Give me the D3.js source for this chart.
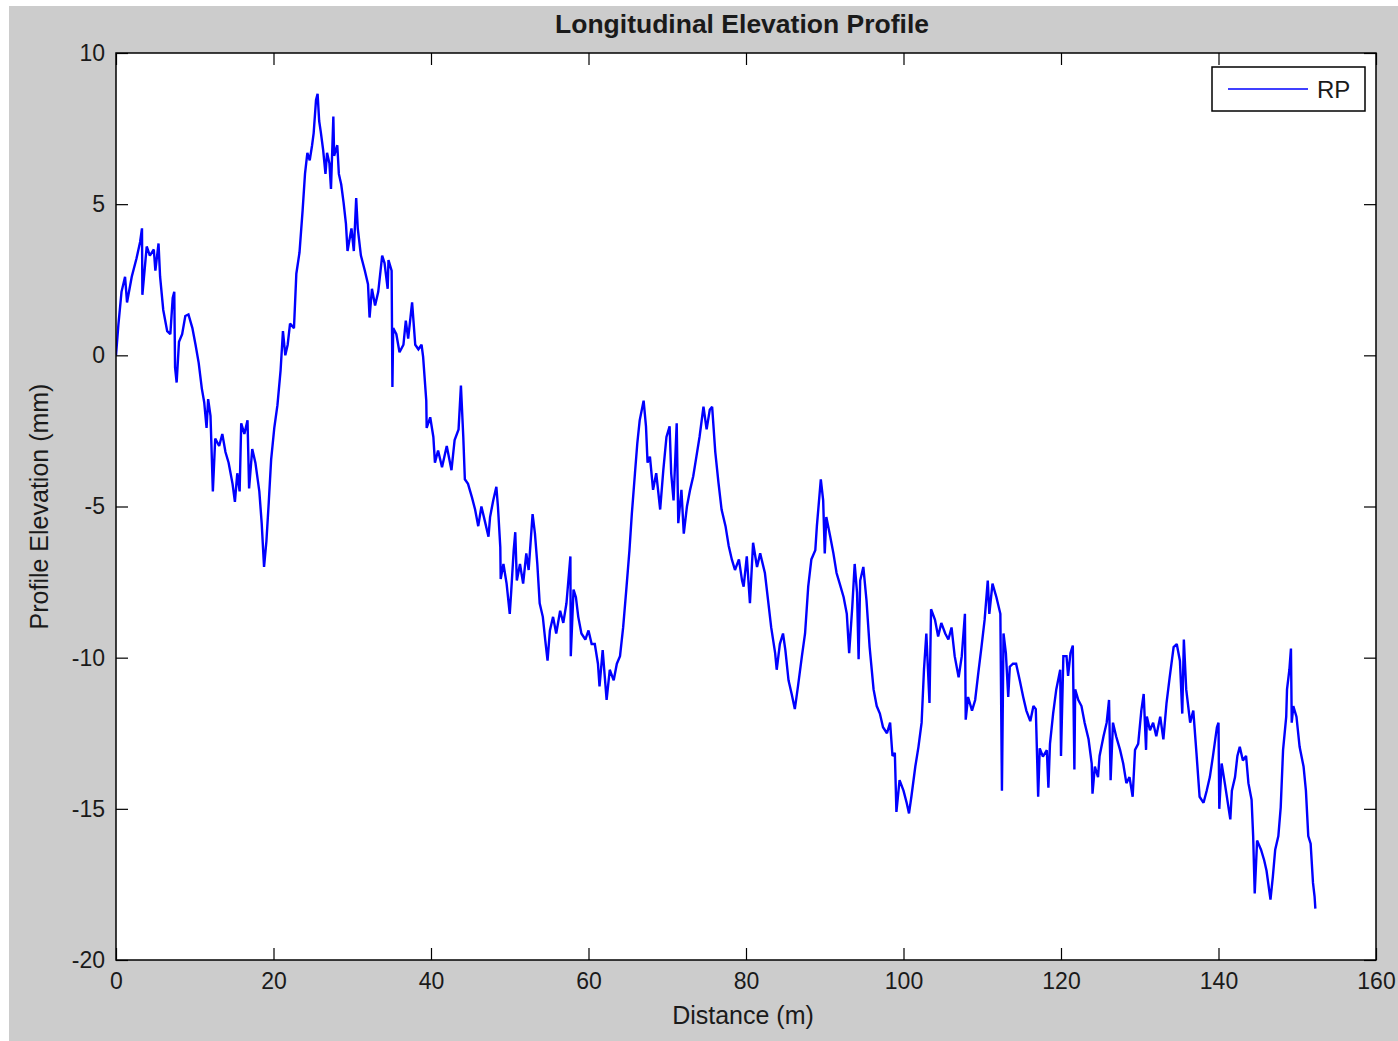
<!DOCTYPE html>
<html>
<head>
<meta charset="utf-8">
<script src="https://cdn.jsdelivr.net/npm/d3@7"></script>
<style>
  html, body { margin: 0; padding: 0; background: #ffffff; }
  svg { display: block; }
  text { font-family: "Liberation Sans", Arial, Helvetica, sans-serif; fill: #1a1a1a; }
</style>
</head>
<body>
<svg id="chart" width="1398" height="1041"></svg>
<script>
// ---- Data ----
const distance = [
  0,0.3,0.7,1.15,1.4,2.0,2.6,3.06,3.3,3.35,3.9,4.3,4.8,5.0,5.4,5.6,6.0,6.5,6.9,7.2,7.4,7.5,7.7,8.0,8.4,8.8,9.2,9.7,10.1,10.5,10.9,11.2,11.5,11.7,12.0,12.3,12.6,13.1,13.5,13.9,14.3,14.8,15.1,15.4,15.7,15.9,16.3,16.7,16.9,17.3,17.7,18.2,18.5,18.8,19.1,19.4,19.7,20.1,20.5,20.9,21.2,21.5,21.8,22.1,22.6,22.9,23.3,23.5,23.7,24.0,24.3,24.6,24.9,25.1,25.4,25.6,25.8,26.0,26.3,26.6,26.8,27.1,27.3,27.6,27.7,28.1,28.3,28.6,28.9,29.2,29.4,29.9,30.2,30.5,30.7,31.1,31.6,32.0,32.2,32.5,32.9,33.3,33.8,34.1,34.5,34.6,35.0,35.1,35.2,35.6,36.0,36.5,36.8,37.1,37.6,38.0,38.4,38.8,
  39.0,39.4,39.45,39.9,40.3,40.5,40.9,41.4,42.0,42.6,43.0,43.5,43.8,44.1,44.3,44.7,45.2,45.6,46.0,46.4,46.9,47.3,47.5,47.9,48.3,48.5,48.8,48.85,49.2,49.6,50.0,50.2,50.5,50.7,50.9,51.3,51.7,52.1,52.4,52.9,53.2,53.5,53.8,54.2,54.5,54.8,55.1,55.5,55.9,56.4,56.8,57.2,57.7,57.75,58.1,58.4,58.7,59.1,59.6,60.0,60.4,60.8,61.2,61.4,61.8,62.3,62.7,63.2,63.6,64.0,64.4,64.8,65.2,65.5,65.9,66.2,66.5,67.0,67.3,67.5,67.8,68.2,68.6,69.1,69.5,69.9,70.3,70.5,70.8,71.2,71.4,71.8,72.1,72.5,72.9,73.3,73.7,74.1,74.6,75.0,75.4,75.7,
  76.1,76.5,76.9,77.4,77.8,78.2,78.6,79.1,79.5,79.7,80.1,80.5,80.9,81.4,81.8,82.4,82.8,83.2,83.7,83.9,84.3,84.7,85.0,85.4,85.8,86.2,86.6,87.1,87.5,87.9,88.3,88.8,89.0,89.5,89.8,90.0,90.2,90.7,91.1,91.5,91.9,92.4,92.8,93.1,93.5,93.8,94.1,94.3,94.5,94.9,95.3,95.7,96.2,96.6,97.0,97.4,97.9,98.3,98.6,98.9,99.1,99.5,100.0,100.4,100.7,101.0,101.5,101.9,102.3,102.6,102.9,103.3,103.5,104.0,104.4,104.8,105.3,105.7,106.1,106.5,107.0,107.4,107.8,107.9,108.2,108.7,109.1,109.5,109.9,110.3,110.7,110.9,111.3,111.8,112.3,112.5,112.7,113.0,113.3,113.5,113.9,114.3,114.8,115.2,115.6,116.1,116.5,116.8,117.1,117.3,117.7,118.2,
  118.4,118.6,119.0,119.4,119.9,120.0,120.3,120.7,120.9,121.2,121.5,121.7,121.8,122.2,122.6,123.0,123.5,123.9,124.0,124.3,124.7,124.9,125.4,125.8,126.1,126.3,126.6,127.0,127.5,127.9,128.3,128.7,129.1,129.4,129.8,130.2,130.5,130.8,130.9,131.3,131.7,132.1,132.6,133.0,133.4,133.8,134.3,134.7,135.1,135.4,135.6,135.9,136.4,136.8,137.2,137.6,138.1,138.5,138.9,139.3,139.8,140.0,140.1,140.4,140.8,141.5,141.7,142.1,142.4,142.7,143.1,143.5,143.8,144.2,144.4,144.6,144.9,145.4,145.8,146.1,146.6,146.9,147.2,147.6,147.9,148.2,148.6,148.7,149.0,149.2,149.3,149.5,149.9,150.3,150.8,151.1,151.4,151.7,152.0,152.2,152.3
];
const elevation = [
  0.0,1.0,2.1,2.6,1.75,2.6,3.2,3.75,4.2,2.0,3.6,3.3,3.5,2.8,3.7,2.6,1.5,0.8,0.7,1.9,2.1,-0.4,-0.9,0.45,0.7,1.3,1.35,0.9,0.35,-0.25,-1.1,-1.55,-2.4,-1.45,-2.0,-4.5,-2.75,-3.0,-2.6,-3.2,-3.55,-4.25,-4.85,-3.9,-4.5,-2.25,-2.6,-2.15,-4.4,-3.1,-3.55,-4.5,-5.55,-7.0,-6.15,-4.85,-3.45,-2.4,-1.65,-0.5,0.8,0.0,0.35,1.05,0.9,2.7,3.4,4.1,4.8,6.0,6.7,6.45,6.95,7.35,8.45,8.65,7.75,7.4,6.8,6.0,6.7,6.35,5.5,7.9,6.6,6.95,6.0,5.65,5.05,4.35,3.45,4.2,3.45,5.2,4.2,3.3,2.8,2.35,1.25,2.2,1.65,2.1,3.3,3.05,2.2,3.15,2.8,-1.05,0.9,0.7,0.1,0.35,1.15,0.55,1.75,0.35,0.2,0.35,
  -0.05,-1.5,-2.4,-2.05,-2.7,-3.55,-3.15,-3.7,-3.0,-3.8,-2.8,-2.45,-1.0,-2.7,-4.1,-4.25,-4.7,-5.1,-5.65,-5.0,-5.55,-6.0,-5.35,-4.8,-4.35,-5.0,-6.35,-7.4,-6.9,-7.55,-8.55,-7.75,-6.45,-5.85,-7.45,-6.9,-7.55,-6.55,-7.1,-5.25,-5.9,-6.9,-8.2,-8.65,-9.4,-10.1,-9.1,-8.65,-9.2,-8.45,-8.85,-8.2,-6.65,-9.95,-7.75,-8.0,-8.65,-9.2,-9.4,-9.1,-9.55,-9.55,-10.2,-10.95,-9.75,-11.4,-10.4,-10.75,-10.2,-9.95,-9.0,-7.75,-6.45,-5.25,-3.9,-2.9,-2.15,-1.5,-2.35,-3.55,-3.35,-4.45,-3.9,-5.1,-3.8,-2.7,-2.35,-3.9,-4.8,-2.25,-5.55,-4.45,-5.9,-5.0,-4.45,-4.0,-3.35,-2.7,-1.7,-2.45,-1.8,-1.7,
  -3.2,-4.2,-5.1,-5.65,-6.3,-6.75,-7.1,-6.75,-7.45,-7.65,-6.65,-8.2,-6.2,-7.0,-6.55,-7.2,-8.1,-9.0,-9.85,-10.4,-9.55,-9.2,-9.75,-10.75,-11.2,-11.7,-10.95,-9.95,-9.2,-7.65,-6.75,-6.45,-5.65,-4.1,-4.8,-6.55,-5.35,-6.0,-6.55,-7.2,-7.55,-8.0,-8.55,-9.85,-8.3,-6.9,-7.85,-10.05,-7.45,-7.0,-8.1,-9.65,-11.05,-11.6,-11.85,-12.3,-12.5,-12.15,-13.25,-13.15,-15.1,-14.05,-14.4,-14.8,-15.15,-14.6,-13.6,-12.95,-12.15,-10.4,-9.2,-11.5,-8.4,-8.75,-9.3,-8.85,-9.2,-9.4,-9.0,-9.95,-10.65,-9.95,-8.55,-12.05,-11.3,-11.75,-11.4,-10.5,-9.65,-8.75,-7.45,-8.55,-7.55,-8.0,-8.55,-14.4,-9.2,-9.85,-11.3,-10.3,-10.2,-10.2,-10.8,-11.3,-11.75,-12.1,-11.6,-11.7,-14.6,-13.0,-13.27,-13.06,
  -14.3,-12.85,-11.85,-11.05,-10.4,-13.25,-9.95,-9.95,-10.6,-9.85,-9.6,-13.7,-11.05,-11.4,-11.6,-12.15,-12.7,-13.5,-14.5,-13.6,-13.95,-13.25,-12.6,-12.15,-11.4,-14.05,-12.15,-12.6,-13.05,-13.5,-14.15,-13.95,-14.6,-13.05,-12.85,-11.75,-11.2,-13.05,-11.95,-12.4,-12.15,-12.6,-11.95,-12.7,-11.5,-10.65,-9.65,-9.55,-10.1,-11.85,-9.4,-11.05,-12.15,-11.75,-13.15,-14.6,-14.8,-14.4,-13.95,-13.25,-12.3,-12.15,-15.0,-13.5,-14.15,-15.35,-14.4,-13.95,-13.25,-12.95,-13.4,-13.25,-14.15,-14.7,-15.9,-17.8,-16.05,-16.35,-16.7,-17.05,-18.0,-17.25,-16.35,-15.9,-14.95,-13.05,-11.95,-11.05,-10.4,-9.7,-12.15,-11.6,-11.95,-12.95,-13.6,-14.4,-15.9,-16.15,-17.45,-17.9,-18.3
];
const xTicks = [0, 20, 40, 60, 80, 100, 120, 140, 160];
const yTicks = [10, 5, 0, -5, -10, -15, -20];
const chartTitle = "Longitudinal Elevation Profile";
const xLabel = "Distance (m)";
const yLabel = "Profile Elevation (mm)";
const seriesName = "RP";

// ---- Layout ----
const W = 1398, H = 1041;
const plot = { left: 116, right: 1376, top: 53, bottom: 960 };
const svg = d3.select("#chart");

// Figure background (MATLAB gray)
svg.append("rect").attr("x", 9).attr("y", 6).attr("width", W - 9).attr("height", H - 6).attr("fill", "#cccccc");

const x = d3.scaleLinear().domain([0, 160]).range([plot.left, plot.right]);
const y = d3.scaleLinear().domain([-20, 10]).range([plot.bottom, plot.top]);

// Axes white background
svg.append("rect")
  .attr("x", plot.left).attr("y", plot.top)
  .attr("width", plot.right - plot.left).attr("height", plot.bottom - plot.top)
  .attr("fill", "#ffffff");

// Data line
const pts = distance.map((d, i) => [d, elevation[i]]);
const line = d3.line().x(d => x(d[0])).y(d => y(d[1]));
svg.append("clipPath").attr("id", "clip").append("rect")
  .attr("x", plot.left).attr("y", plot.top)
  .attr("width", plot.right - plot.left).attr("height", plot.bottom - plot.top);
svg.append("path")
  .datum(pts)
  .attr("clip-path", "url(#clip)")
  .attr("d", line)
  .attr("fill", "none")
  .attr("stroke", "#0000ff")
  .attr("stroke-width", 2.4)
  .attr("stroke-linejoin", "miter")
  .attr("stroke-miterlimit", 2);

// Axes (ticks inward on all four sides)
const tickLen = 12;
const fontTick = 23;
const fmt = d => String(d);
const axB = svg.append("g").attr("transform", `translate(0,${plot.bottom})`)
  .call(d3.axisBottom(x).tickValues(xTicks).tickSize(-tickLen).tickPadding(13).tickFormat(fmt));
const axT = svg.append("g").attr("transform", `translate(0,${plot.top})`)
  .call(d3.axisTop(x).tickValues(xTicks).tickSize(-tickLen).tickFormat(""));
const axL = svg.append("g").attr("transform", `translate(${plot.left},0)`)
  .call(d3.axisLeft(y).tickValues(yTicks).tickSize(-tickLen).tickPadding(11).tickFormat(fmt));
const axR = svg.append("g").attr("transform", `translate(${plot.right},0)`)
  .call(d3.axisRight(y).tickValues(yTicks).tickSize(-tickLen).tickFormat(""));

[axB, axT, axL, axR].forEach(g => {
  g.select(".domain").remove();
  g.selectAll(".tick line").attr("stroke", "#000").attr("stroke-width", 1.2);
  g.selectAll(".tick text").attr("font-size", fontTick).attr("fill", "#1a1a1a")
    .attr("font-family", "Liberation Sans, Arial, sans-serif");
});

// Box border
svg.append("rect")
  .attr("x", plot.left).attr("y", plot.top)
  .attr("width", plot.right - plot.left).attr("height", plot.bottom - plot.top)
  .attr("fill", "none").attr("stroke", "#000").attr("stroke-width", 1.5);

// Title
svg.append("text")
  .attr("x", (plot.left + plot.right) / 2 - 4).attr("y", 33)
  .attr("text-anchor", "middle")
  .attr("font-size", 26.5).attr("font-weight", "bold")
  .text(chartTitle);

// Axis labels
svg.append("text")
  .attr("x", (plot.left + plot.right) / 2 - 3).attr("y", 1024)
  .attr("text-anchor", "middle").attr("font-size", 25)
  .text(xLabel);
svg.append("text")
  .attr("transform", `translate(48,${(plot.top + plot.bottom) / 2}) rotate(-90)`)
  .attr("text-anchor", "middle").attr("font-size", 25)
  .text(yLabel);

// Legend
const lg = svg.append("g");
lg.append("rect").attr("x", 1212).attr("y", 67).attr("width", 153).attr("height", 44)
  .attr("fill", "#fff").attr("stroke", "#000").attr("stroke-width", 1.5);
lg.append("line").attr("x1", 1228).attr("x2", 1308).attr("y1", 89).attr("y2", 89)
  .attr("stroke", "#0000ff").attr("stroke-width", 1.5);
lg.append("text").attr("x", 1317).attr("y", 98).attr("font-size", 24).text(seriesName);
</script>
</body>
</html>
